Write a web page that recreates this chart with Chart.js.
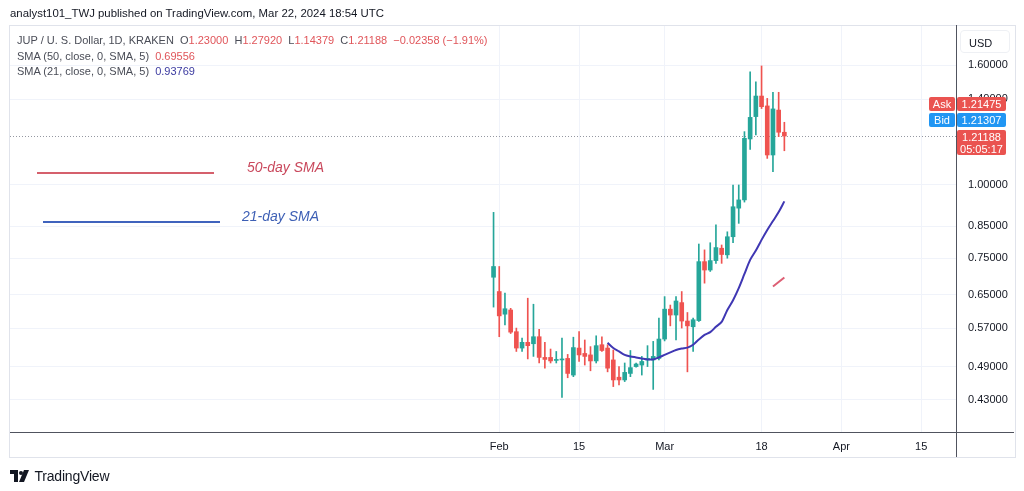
<!DOCTYPE html>
<html>
<head>
<meta charset="utf-8">
<script src="https://cdn.jsdelivr.net/npm/chart.js@4.4.1/dist/chart.umd.min.js"></script>
<style>
  body { margin: 0; background: #fff; font-family: "Liberation Sans", Arial, sans-serif; }
  #wrap { position: relative; width: 1024px; height: 491px; overflow: hidden; }
  #chart { position: absolute; left: 0; top: 0; }
  .t { position: absolute; white-space: nowrap; line-height: 1; }
  .frame { position: absolute; left: 9px; top: 25px; width: 1005px; height: 431px; border: 1px solid #e0e3eb; box-sizing: content-box; }
  .legend { left: 17px; font-size: 11px; color: #4a4d57; }
  .red { color: #e0555a; }
  .ind { color: #3b3aa0; }
  .note { font-size: 14px; font-style: italic; }
  .swatch { position: absolute; height: 2px; }
  .usd { position: absolute; left: 960px; top: 30px; width: 50px; height: 23px; border: 1px solid #eef0f4; border-radius: 4px; box-sizing: border-box; font-size: 11px; color: #131722; padding: 6px 0 0 8px; }
  .tag { position: absolute; color: #fff; font-size: 11px; border-radius: 2px; text-align: center; line-height: 14px; }
</style>
</head>
<body>
<div id="wrap">
  <div class="frame"></div>
  <canvas id="chart" width="1024" height="491"></canvas>

  <div class="t" style="left:10px; top:8px; font-size:11.4px; color:#131722;">analyst101_TWJ published on TradingView.com, Mar 22, 2024 18:54 UTC</div>
  <div class="t legend" style="top:35px;">JUP / U. S. Dollar, 1D, KRAKEN&nbsp;&nbsp;O<span class="red">1.23000</span>&nbsp;&nbsp;H<span class="red">1.27920</span>&nbsp;&nbsp;L<span class="red">1.14379</span>&nbsp;&nbsp;C<span class="red">1.21188</span>&nbsp;&nbsp;<span class="red">−0.02358 (−1.91%)</span></div>
  <div class="t legend" style="top:51px;">SMA (50, close, 0, SMA, 5)&nbsp;&nbsp;<span class="red">0.69556</span></div>
  <div class="t legend" style="top:66px;">SMA (21, close, 0, SMA, 5)&nbsp;&nbsp;<span class="ind">0.93769</span></div>

  <div class="swatch" style="left:37px; top:172px; width:177px; background:#d5606c;"></div>
  <div class="t note" style="left:247px; top:160px; color:#c9485c;">50-day SMA</div>
  <div class="swatch" style="left:43px; top:221px; width:177px; background:#3f63bd;"></div>
  <div class="t note" style="left:242px; top:209px; color:#3d5fb5;">21-day SMA</div>

  <div class="usd">USD</div>
  <div id="tags"></div>

  <div class="t" style="left:10px; top:467px;">
    <svg width="20" height="12" viewBox="0 0 20 12" style="vertical-align:middle">
      <path d="M0 0h8v12h-4v-8h-4z" fill="#131722"/>
      <circle cx="11" cy="3" r="2" fill="#131722"/>
      <path d="M14 0h5l-5 12h-5z" fill="#131722"/>
    </svg>
    <span style="font-size:14px; color:#131722; vertical-align:middle; letter-spacing:-0.2px;">TradingView</span>
  </div>
</div>

<script>
// daily candles, KRAKEN JUP/USD
const days = ['01-31',
  '02-01','02-02','02-03','02-04','02-05','02-06','02-07','02-08','02-09','02-10',
  '02-11','02-12','02-13','02-14','02-15','02-16','02-17','02-18','02-19','02-20',
  '02-21','02-22','02-23','02-24','02-25','02-26','02-27','02-28','02-29',
  '03-01','03-02','03-03','03-04','03-05','03-06','03-07','03-08','03-09','03-10',
  '03-11','03-12','03-13','03-14','03-15','03-16','03-17','03-18','03-19','03-20',
  '03-21','03-22'];
const opens = [0.696,
  0.658, 0.602, 0.612, 0.562, 0.527, 0.539, 0.536, 0.551, 0.508, 0.508,
  0.502, 0.503, 0.506, 0.474, 0.527, 0.516, 0.513, 0.501, 0.534, 0.527,
  0.503, 0.470, 0.465, 0.477, 0.490, 0.493, 0.503, 0.503, 0.506,
  0.546, 0.614, 0.600, 0.630, 0.586, 0.573, 0.587, 0.740, 0.716, 0.743,
  0.780, 0.760, 0.816, 0.913, 0.943, 1.198, 1.308, 1.418, 1.364, 1.125,
  1.342, 1.230];
const highs = [0.898,
  0.726, 0.654, 0.616, 0.570, 0.548, 0.641, 0.626, 0.567, 0.539, 0.525,
  0.520, 0.548, 0.514, 0.550, 0.562, 0.544, 0.530, 0.553, 0.551, 0.534,
  0.523, 0.490, 0.497, 0.522, 0.497, 0.510, 0.532, 0.541, 0.593,
  0.645, 0.624, 0.645, 0.658, 0.606, 0.593, 0.793, 0.775, 0.797, 0.855,
  0.790, 0.832, 1.000, 1.000, 1.233, 1.560, 1.500, 1.596, 1.405, 1.439,
  1.439, 1.2792];
const lows = [0.619,
  0.551, 0.577, 0.558, 0.520, 0.520, 0.505, 0.510, 0.497, 0.487, 0.497,
  0.497, 0.434, 0.469, 0.471, 0.500, 0.493, 0.482, 0.497, 0.520, 0.480,
  0.453, 0.456, 0.462, 0.471, 0.489, 0.474, 0.490, 0.448, 0.503,
  0.542, 0.575, 0.544, 0.570, 0.480, 0.520, 0.585, 0.680, 0.712, 0.735,
  0.735, 0.750, 0.797, 0.860, 0.935, 1.150, 1.217, 1.350, 1.110, 1.054,
  1.209, 1.14379];
const closes = [0.726,
  0.598, 0.615, 0.561, 0.527, 0.539, 0.532, 0.551, 0.508, 0.504, 0.501,
  0.504, 0.504, 0.477, 0.528, 0.513, 0.510, 0.501, 0.532, 0.522, 0.487,
  0.465, 0.465, 0.479, 0.488, 0.495, 0.500, 0.506, 0.510, 0.546,
  0.614, 0.600, 0.634, 0.586, 0.575, 0.589, 0.740, 0.716, 0.743, 0.782,
  0.761, 0.816, 0.918, 0.943, 1.201, 1.304, 1.418, 1.360, 1.125, 1.348,
  1.230, 1.21188];

// moving averages, first value on the date given
const sma21Start = '02-20';
const sma21 = [0.538, 0.527, 0.520, 0.513, 0.510, 0.508, 0.506, 0.504, 0.504, 0.508,
  0.513, 0.518, 0.523, 0.526, 0.528, 0.534, 0.545, 0.555, 0.561, 0.573,
  0.584, 0.612, 0.636, 0.667, 0.705, 0.745, 0.773, 0.806, 0.838, 0.868,
  0.899, 0.93769];
const sma50Start = '03-20';
const sma50 = [0.671, 0.683, 0.69556];

const askPrice = 1.21475;
const bidPrice = 1.21307;
const countdown = '05:05:17';

const yTicks = [0.43, 0.49, 0.57, 0.65, 0.75, 0.85, 1.0, 1.4, 1.6];
const xTickDays = [0, 14, 29, 46, 60, 74];
const xTickLabels = ['Feb', '15', 'Mar', '18', 'Apr', '15'];

const UP = '#26a69a';
const DOWN = '#ef5350';

// day offset from Feb 1, 2024
const dayNum = s => {
  const [m, d] = s.split('-').map(Number);
  return Math.round((Date.UTC(2024, m - 1, d) - Date.UTC(2024, 1, 1)) / 86400000);
};
const xs = days.map(dayNum);
const colors = opens.map((o, i) => closes[i] >= o ? UP : DOWN);

const bodies = xs.map((x, i) => ({ x, y: [opens[i], closes[i]] }));
const wicks = xs.map((x, i) => ({ x, y: [lows[i], highs[i]] }));
const smaPoints = (start, vals) => vals.map((v, i) => ({ x: dayNum(start) + i, y: v }));

const lastClose = closes[closes.length - 1];

const separators = {
  id: 'separators',
  beforeDatasetsDraw(chart) {
    const { ctx, chartArea: a } = chart;
    const y = chart.scales.y.getPixelForValue(lastClose);
    ctx.save();
    ctx.strokeStyle = '#9598a1';
    ctx.lineWidth = 1;
    ctx.setLineDash([1, 2]);
    ctx.beginPath();
    ctx.moveTo(a.left, Math.round(y) + 0.5);
    ctx.lineTo(a.right, Math.round(y) + 0.5);
    ctx.stroke();
    ctx.restore();
  },
  afterDraw(chart) {
    const { ctx, chartArea: a } = chart;
    ctx.save();
    ctx.strokeStyle = '#50535e';
    ctx.lineWidth = 1;
    ctx.beginPath();
    ctx.moveTo(a.right + 0.5, 25);
    ctx.lineTo(a.right + 0.5, 457);
    ctx.moveTo(a.left, a.bottom + 0.5);
    ctx.lineTo(1014, a.bottom + 0.5);
    ctx.stroke();
    ctx.restore();
  }
};

const chart = new Chart(document.getElementById('chart'), {
  type: 'bar',
  data: {
    datasets: [
      {
        type: 'line',
        label: 'SMA 50',
        data: smaPoints(sma50Start, sma50),
        borderColor: '#dd5f74',
        borderWidth: 2,
        pointRadius: 0,
        tension: 0.3,
      },
      {
        type: 'line',
        label: 'SMA 21',
        data: smaPoints(sma21Start, sma21),
        borderColor: '#3f37b3',
        borderWidth: 2,
        pointRadius: 0,
        tension: 0.3,
      },
      {
        label: 'Wick',
        data: wicks,
        backgroundColor: colors,
        barThickness: 1,
        grouped: false,
      },
      {
        label: 'Body',
        data: bodies,
        backgroundColor: colors,
        barThickness: 4,
        minBarLength: 1,
        grouped: false,
      },
    ],
  },
  options: {
    responsive: false,
    animation: false,
    events: [],
    layout: { padding: { left: 10, top: 26, right: 9, bottom: 34 } },
    plugins: { legend: { display: false }, tooltip: { enabled: false } },
    scales: {
      x: {
        type: 'linear',
        offset: false,
        min: -85.8,
        max: 80.1,
        afterBuildTicks: s => { s.ticks = xTickDays.map(v => ({ value: v })); },
        afterFit: s => { s.height = 25; },
        grid: { color: '#f0f3fa', drawTicks: false, offset: false },
        border: { display: false },
        ticks: {
          padding: 8,
          color: '#131722',
          font: { family: '"Liberation Sans", Arial, sans-serif', size: 11 },
          maxRotation: 0,
          autoSkip: false,
          callback: v => xTickLabels[xTickDays.indexOf(v)] ?? '',
        },
      },
      y: {
        type: 'logarithmic',
        position: 'right',
        min: 0.379,
        max: 1.867,
        afterBuildTicks: s => { s.ticks = yTicks.map(v => ({ value: v })); },
        afterFit: s => { s.width = 59; },
        grid: { color: '#f0f3fa', drawTicks: false },
        border: { display: false },
        ticks: {
          padding: 12,
          color: '#131722',
          font: { family: '"Liberation Sans", Arial, sans-serif', size: 11 },
          autoSkip: false,
          callback: v => Number(v).toFixed(5),
        },
      },
    },
  },
  plugins: [separators],
});

// price tags on the axis, stacked around the last close
const yClose = chart.scales.y.getPixelForValue(lastClose);
const tags = document.getElementById('tags');
const tag = (left, top, w, h, bg, html) => {
  const d = document.createElement('div');
  d.className = 'tag';
  Object.assign(d.style, { left: left + 'px', top: top + 'px', width: w + 'px', height: h + 'px', background: bg });
  d.innerHTML = html;
  tags.appendChild(d);
};
const cTop = Math.round(yClose) - 6;
tag(957, cTop, 49, 25, '#ea5350', `<div style="line-height:12px; padding-top:1px">${lastClose.toFixed(5)}<br>${countdown}</div>`);
tag(957, cTop - 17, 49, 14, '#2196f3', bidPrice.toFixed(5));
tag(929, cTop - 17, 26, 14, '#2196f3', 'Bid');
tag(957, cTop - 33, 49, 14, '#ea5350', askPrice.toFixed(5));
tag(929, cTop - 33, 26, 14, '#ea5350', 'Ask');
</script>
</body>
</html>
